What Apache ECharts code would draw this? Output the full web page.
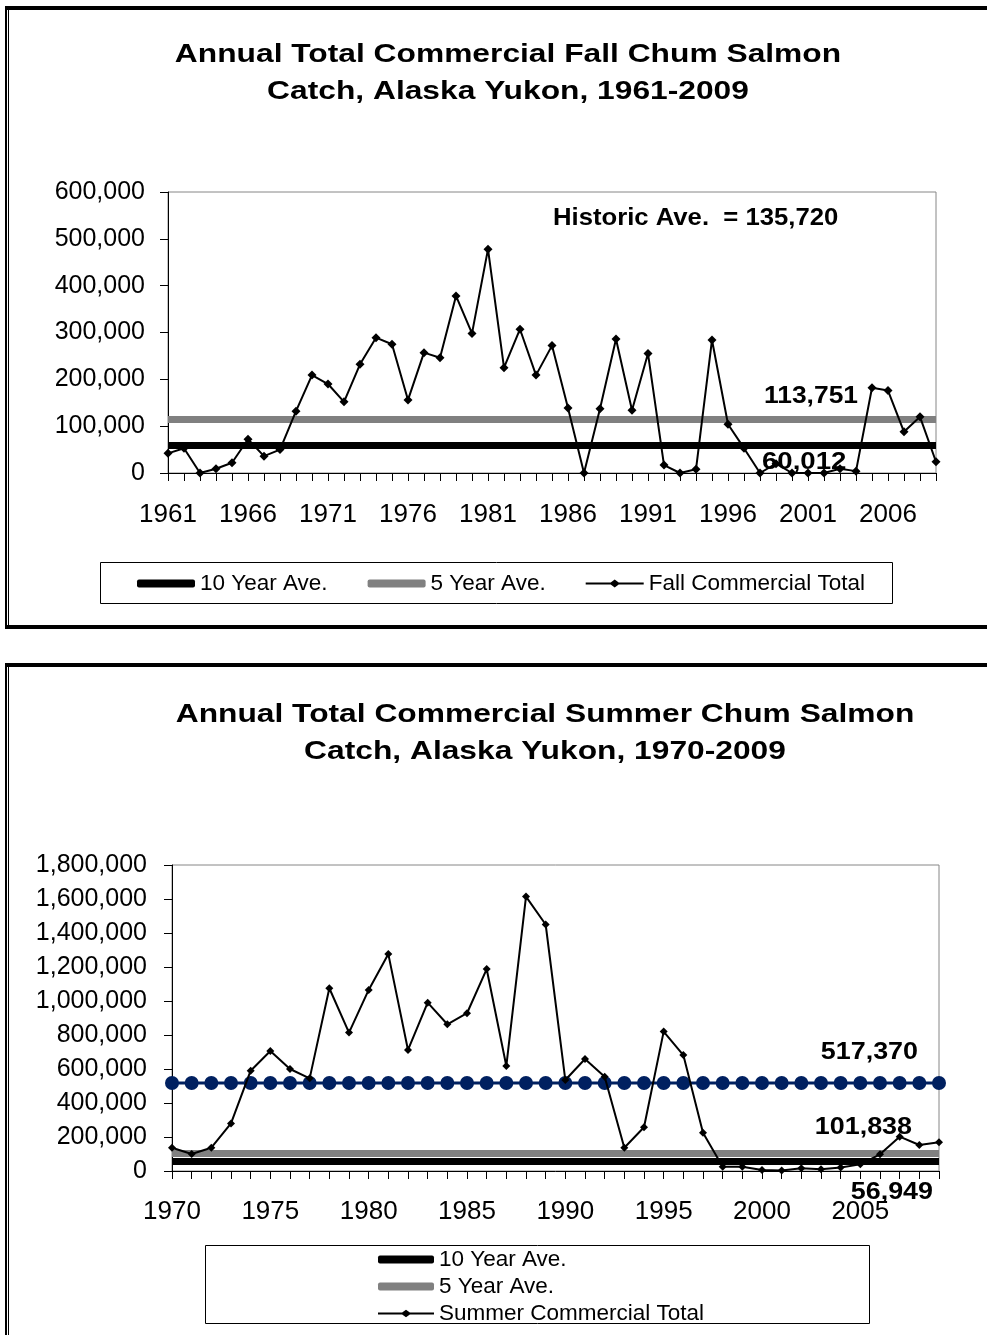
<!DOCTYPE html>
<html><head><meta charset="utf-8">
<script src="https://cdn.jsdelivr.net/npm/echarts@6/dist/echarts.min.js"></script>
<style>html,body{margin:0;padding:0;background:#fff;overflow:hidden}#c{width:987px;height:1335px}</style>
</head><body><div id="c"></div>
<script>
// ---------- DATA ----------
const fallYears = ['1961','1962','1963','1964','1965','1966','1967','1968','1969','1970','1971','1972','1973','1974','1975','1976','1977','1978','1979','1980','1981','1982','1983','1984','1985','1986','1987','1988','1989','1990','1991','1992','1993','1994','1995','1996','1997','1998','1999','2000','2001','2002','2003','2004','2005','2006','2007','2008','2009'];
const fallCatch = [42000,53000,0,9000,22000,72000,36000,50000,132000,209000,190000,152000,232000,289000,275000,156000,257000,246000,378000,298000,478000,225000,307000,209000,272000,139000,0,137000,286000,134000,255000,17000,0,8000,284000,104000,53000,0,20000,0,0,0,9000,4000,182000,176000,88000,120000,24000];
const fallTenYearAve = 60012;
const fallFiveYearAve = 113751;
const fallHistoricAve = 135720;

const summerYears = ['1970','1971','1972','1973','1974','1975','1976','1977','1978','1979','1980','1981','1982','1983','1984','1985','1986','1987','1988','1989','1990','1991','1992','1993','1994','1995','1996','1997','1998','1999','2000','2001','2002','2003','2004','2005','2006','2007','2008','2009'];
const summerCatch = [137000,100000,137000,280000,590000,706000,600000,545000,1075000,814000,1065000,1276000,712000,990000,863000,928000,1188000,618000,1614000,1450000,535000,659000,555000,137000,257000,820000,682000,225000,25000,25000,6000,3000,16000,11000,20000,39000,98000,202000,153000,169000];
const summerTenYearAve = 56949;
const summerFiveYearAve = 101838;
const summerHistoricAve = 517370;

const fallTitle = ['Annual Total Commercial Fall Chum Salmon', 'Catch, Alaska Yukon, 1961-2009'];
const summerTitle = ['Annual Total Commercial Summer Chum Salmon', 'Catch, Alaska Yukon, 1970-2009'];
const legendNames = ['10 Year Ave.', '5 Year Ave.', 'Fall Commercial Total', 'Summer Commercial Total'];

// ---------- STYLE ----------
const FONT = "Arial, 'Liberation Sans', sans-serif";
const fmt = v => Number(v).toLocaleString('en-US');
const NAVY = '#002060', GRAY = '#808080';

function avgSeries(name, value, color, xi) {
  return {
    name, type: 'line', xAxisIndex: xi, yAxisIndex: xi, data: [],
    color, itemStyle: {color}, symbol: 'none', z: 3,
    markLine: {
      silent: true, animation: false, symbol: ['none', 'none'],
      label: {show: false},
      lineStyle: {color, width: 7, type: 'solid'},
      emphasis: {disabled: true},
      data: [{yAxis: value}]
    }
  };
}
function bigText(x, y, text, align, scaleX, size) {
  return {type: 'text', x, y, scaleX, z: 100,
    style: {text, font: 'bold ' + size + 'px ' + FONT, fill: '#000',
      align, verticalAlign: 'middle', textAlign: align, textVerticalAlign: 'middle'}};
}
function rect(x, y, w, h) {
  return {type: 'rect', shape: {x, y, width: w, height: h}, style: {fill: '#000'}, z: 100};
}
function box(x, y, w, h) {
  return {type: 'rect', shape: {x: x + 0.5, y: y + 0.5, width: w, height: h}, style: {fill: 'none', stroke: '#000', lineWidth: 1}, z: 1};
}

const lineIcon = 'path://M0,3L25,3L29,0L33,3L58,3L58,5L33,5L29,8L25,5L0,5Z';

const axisX = (gi, data, margin) => ({
  type: 'category', gridIndex: gi, data, boundaryGap: false,
  axisLine: {show: true, lineStyle: {color: '#000', width: 1}},
  axisTick: {show: true, interval: 0, length: 8, lineStyle: {color: '#000'}},
  axisLabel: {interval: 4, margin, fontSize: 26, lineHeight: 26, color: '#000', fontFamily: FONT},
  splitLine: {show: false}
});
const axisY = (gi, max, interval, margin) => ({
  type: 'value', gridIndex: gi, min: 0, max, interval,
  axisLine: {show: true, lineStyle: {color: '#000', width: 1}},
  axisTick: {show: true, length: 8, lineStyle: {color: '#000'}},
  axisLabel: {margin, fontSize: 25, color: '#000', fontFamily: FONT, formatter: fmt},
  splitLine: {show: false}
});

const chart = echarts.init(document.getElementById('c'), null, {renderer: 'canvas'});
chart.setOption({
  animation: false,
  backgroundColor: '#fff',
  grid: [
    {left: 168, top: 192, width: 768, height: 281, show: true, borderColor: '#868686', borderWidth: 1},
    {left: 172, top: 865, width: 767, height: 306, show: true, borderColor: '#868686', borderWidth: 1}
  ],
  xAxis: [axisX(0, fallYears, 29), axisX(1, summerYears, 28)],
  yAxis: [axisY(0, 600000, 100000, 23), axisY(1, 1800000, 200000, 25)],
  legend: [
    {
      left: 137, top: 572, orient: 'horizontal', padding: 0,
      itemWidth: 58, itemHeight: 8, itemGap: 40, selectedMode: false,
      textStyle: {fontSize: 22.5, lineHeight: 22, color: '#000', fontFamily: FONT},
      data: [
        {name: legendNames[0], icon: 'roundRect', itemStyle: {color: '#000'}},
        {name: legendNames[1], icon: 'roundRect', itemStyle: {color: GRAY}},
        {name: legendNames[2], icon: lineIcon, itemStyle: {color: '#000'}}
      ]
    },
    {
      left: 378, top: 1248, orient: 'vertical', padding: 0,
      itemWidth: 56, itemHeight: 8, itemGap: 4, selectedMode: false,
      textStyle: {fontSize: 22.5, lineHeight: 22, color: '#000', fontFamily: FONT},
      data: [
        {name: legendNames[0], icon: 'roundRect', itemStyle: {color: '#000'}},
        {name: legendNames[1], icon: 'roundRect', itemStyle: {color: GRAY}},
        {name: legendNames[3], icon: lineIcon, itemStyle: {color: '#000'}}
      ]
    }
  ],
  series: [
    avgSeries(legendNames[1], fallFiveYearAve, GRAY, 0),
    avgSeries(legendNames[0], fallTenYearAve, '#000', 0),
    {
      name: legendNames[2], type: 'line', xAxisIndex: 0, yAxisIndex: 0, data: fallCatch,
      symbol: 'diamond', symbolSize: 9, showAllSymbol: true, clip: false, z: 5,
      lineStyle: {color: '#000', width: 2}, itemStyle: {color: '#000'}
    },
    avgSeries(legendNames[1], summerFiveYearAve, GRAY, 1),
    avgSeries(legendNames[0], summerTenYearAve, '#000', 1),
    {
      name: 'Historic Ave.', type: 'line', xAxisIndex: 1, yAxisIndex: 1,
      data: summerYears.map(() => summerHistoricAve),
      symbol: 'circle', symbolSize: 14, showAllSymbol: true, clip: false, z: 4,
      lineStyle: {color: NAVY, width: 3}, itemStyle: {color: NAVY}
    },
    {
      name: legendNames[3], type: 'line', xAxisIndex: 1, yAxisIndex: 1, data: summerCatch,
      symbol: 'diamond', symbolSize: 8, showAllSymbol: true, clip: false, z: 5,
      lineStyle: {color: '#000', width: 2}, itemStyle: {color: '#000'}
    }
  ],
  graphic: [
    // frames
    rect(5, 6, 990, 4), rect(5, 6, 2, 623), rect(8, 10, 1, 615), rect(5, 625, 990, 4),
    rect(5, 663, 990, 4), rect(5, 663, 2, 680), rect(8, 667, 1, 680),
    // legend boxes
    box(100, 562, 792, 41), box(205, 1245, 664, 78),
    // titles
    bigText(508, 55, fallTitle[0], 'center', 1.27, 25),
    bigText(508, 92, fallTitle[1], 'center', 1.27, 25),
    bigText(545, 715, summerTitle[0], 'center', 1.27, 25),
    bigText(545, 752, summerTitle[1], 'center', 1.27, 25),
    // annotations
    bigText(553, 218, 'Historic Ave.  = ' + fmt(fallHistoricAve), 'left', 1.07, 24),
    bigText(858, 396, fmt(fallFiveYearAve), 'right', 1.1, 24),
    bigText(762, 462, fmt(fallTenYearAve), 'left', 1.15, 24),
    bigText(918, 1052, fmt(summerHistoricAve), 'right', 1.12, 24),
    bigText(912, 1127, fmt(summerFiveYearAve), 'right', 1.12, 24),
    bigText(933, 1192, fmt(summerTenYearAve), 'right', 1.12, 24)
  ]
});
</script></body></html>
